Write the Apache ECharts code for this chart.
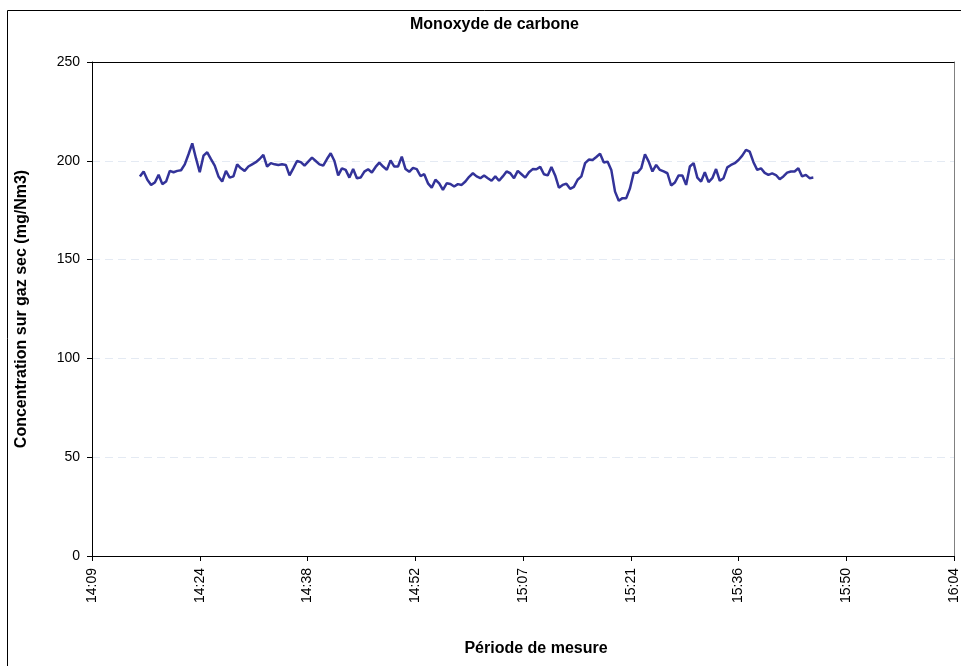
<!DOCTYPE html>
<html>
<head>
<meta charset="utf-8">
<title>Monoxyde de carbone</title>
<script src="https://cdn.jsdelivr.net/npm/echarts@6/dist/echarts.min.js"></script>
<style>
  html, body { margin: 0; padding: 0; background: #fff; }
  #chart { width: 961px; height: 666px; }
</style>
</head>
<body>
<div id="chart"></div>
<script>
// Measurement log: CO concentration on dry gas, one reading every 30 s
const startSeconds = 14 * 3600 + 16 * 60;   // 14:16:00
const stepSeconds = 30;
const coValues = [
  192.1, 194.6, 190.4, 187.8, 189.0, 192.9, 188.2, 189.5, 194.9, 194.2,
  194.9, 195.2, 198.2, 203.3, 208.8, 201.2, 194.2, 202.6, 204.3, 200.9,
  197.6, 192.1, 189.5, 194.9, 191.5, 192.1, 198.2, 196.2, 194.9, 197.1,
  198.2, 199.3, 200.9, 203.0, 197.1, 198.8, 198.2, 197.9, 198.2, 197.9,
  192.6, 196.2, 199.9, 199.3, 197.6, 199.6, 201.6, 199.9, 198.2, 197.6,
  200.9, 203.8, 199.9, 192.6, 196.2, 195.4, 191.5, 195.8, 191.2, 191.5,
  194.5, 195.7, 194.1, 196.9, 199.1, 197.1, 195.4, 200.2, 197.1, 197.1,
  202.1, 195.8, 194.4, 196.4, 195.8, 192.3, 193.2, 188.6, 186.4, 190.4,
  188.6, 185.3, 188.6, 188.3, 187.0, 188.2, 187.8, 189.5, 191.9, 193.7,
  192.1, 191.2, 192.6, 191.2, 189.9, 192.1, 189.9, 192.1, 194.6, 193.7,
  191.2, 194.9, 193.2, 191.5, 194.2, 195.8, 195.7, 196.9, 193.2, 192.6,
  196.9, 192.6, 186.4, 187.8, 188.4, 185.8, 186.8, 190.4, 192.1, 198.8,
  200.6, 200.4, 201.9, 203.6, 199.1, 199.6, 195.4, 184.4, 179.8, 181.1,
  181.1, 186.1, 194.0, 194.0, 196.2, 203.3, 199.6, 194.6, 197.9, 195.4,
  194.6, 193.7, 187.5, 189.0, 192.6, 192.6, 187.8, 197.1, 198.8, 191.5,
  189.5, 194.2, 189.2, 191.2, 195.8, 189.9, 191.2, 196.7, 197.9, 198.8,
  200.4, 202.6, 205.5, 204.6, 199.3, 195.4, 196.2, 193.9, 192.9, 193.6,
  192.8, 190.7, 192.1, 194.0, 194.6, 194.6, 196.2, 192.1, 192.9, 191.2,
  191.5
];

// Time axis in seconds of the day; ticks every 0.01 day (864 s)
const xMin = 59 * 864;   // 14:09:36
const xMax = 67 * 864;   // 16:04:48
const xStep = 864;
const yTicks = [0, 50, 100, 150, 200, 250];

const chartTitle = 'Monoxyde de carbone';
const xTitle = 'Période de mesure';
const yTitle = 'Concentration sur gaz sec (mg/Nm3)';

const seriesData = coValues.map((v, i) => [startSeconds + i * stepSeconds, v]);

function hhmm(sec) {
  const s = Math.round(sec);
  const h = Math.floor(s / 3600);
  const m = Math.floor((s % 3600) / 60);
  return h + ':' + String(m).padStart(2, '0');
}

const FONT = 'Liberation Sans';
const titleStyle = { fontFamily: FONT, fontSize: 16, fontWeight: 'bold', color: '#000' };
const chart = echarts.init(document.getElementById('chart'), null, { renderer: 'canvas' });

chart.setOption({
  backgroundColor: '#ffffff',
  animation: false,
  title: {
    text: chartTitle,
    left: 410,
    top: 17,
    padding: 0,
    textStyle: titleStyle
  },
  graphic: [{
    type: 'rect',
    z: -1,
    silent: true,
    shape: { x: 7.5, y: 10.5, width: 2000, height: 2000 },
    style: { fill: null, stroke: '#000', lineWidth: 1 }
  }],
  grid: {
    left: 92, right: 2, top: 62, bottom: 110,
    show: false
  },
  xAxis: [{
    type: 'value',
    min: xMin,
    max: xMax,
    interval: xStep,
    name: xTitle,
    nameLocation: 'middle',
    nameGap: 85,
    nameTextStyle: Object.assign({ padding: [0, 0, 0, 26] }, titleStyle),
    axisLine: { lineStyle: { color: '#000', width: 1 } },
    axisTick: { show: true, length: 5, lineStyle: { color: '#000' } },
    axisLabel: {
      rotate: 90,
      margin: 12,
      fontFamily: FONT,
      fontSize: 14,
      color: '#000',
      formatter: hhmm,
      showMinLabel: true,
      showMaxLabel: true
    },
    splitLine: { show: false }
  }, {
    // top edge of the plot frame
    type: 'value',
    position: 'top',
    min: xMin,
    max: xMax,
    interval: xStep,
    axisLine: { show: true, onZero: false, lineStyle: { color: '#000', width: 1 } },
    axisTick: { show: false },
    axisLabel: { show: false },
    splitLine: { show: false }
  }],
  yAxis: [{
    type: 'value',
    min: yTicks[0],
    max: yTicks[yTicks.length - 1],
    interval: yTicks[1] - yTicks[0],
    name: yTitle,
    nameLocation: 'middle',
    nameGap: 62,
    nameTextStyle: titleStyle,
    axisLine: { show: true, lineStyle: { color: '#000', width: 1 } },
    axisTick: { show: true, length: 5, lineStyle: { color: '#000' } },
    axisLabel: { margin: 12, fontFamily: FONT, fontSize: 14, color: '#000' },
    splitLine: {
      show: true,
      lineStyle: { color: '#e4eaf3', type: [8, 5], width: 1 }
    }
  }, {
    // right edge of the plot frame
    type: 'value',
    position: 'right',
    min: yTicks[0],
    max: yTicks[yTicks.length - 1],
    interval: yTicks[1] - yTicks[0],
    axisLine: { show: true, onZero: false, lineStyle: { color: '#808080', width: 1 } },
    axisTick: { show: false },
    axisLabel: { show: false },
    splitLine: { show: false }
  }],
  series: [{
    type: 'line',
    xAxisIndex: 0,
    yAxisIndex: 0,
    data: seriesData,
    showSymbol: false,
    smooth: false,
    lineStyle: { color: '#333399', width: 2.5 },
    itemStyle: { color: '#333399' }
  }]
});
</script>
</body>
</html>
